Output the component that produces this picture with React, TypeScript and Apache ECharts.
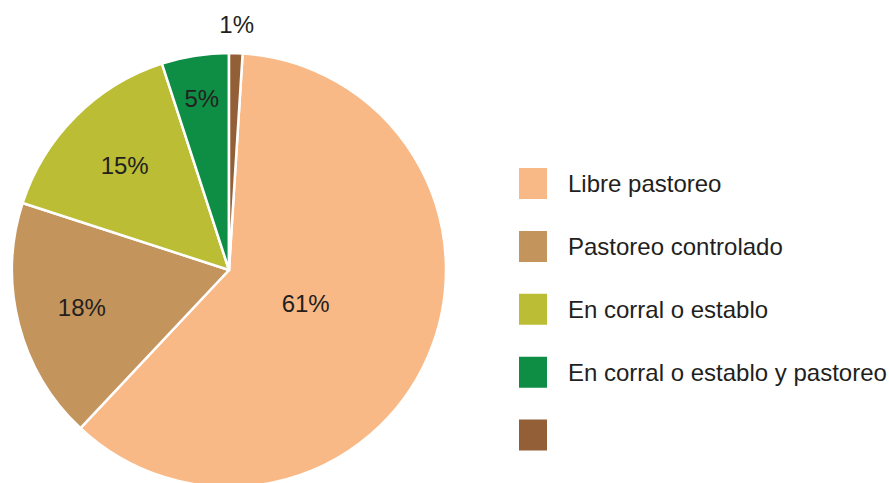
import React, { useEffect, useRef } from "react";
import * as echarts from "echarts";

const categories = [
  "Libre pastoreo",
  "Pastoreo controlado",
  "En corral o establo",
  "En corral o establo y pastoreo",
  " ",
];
const values = [61, 18, 15, 5, 1];
const colors = ["#f9b986", "#c4945d", "#bbbd35", "#0e8e44", "#935f37"];
const labelRadiusFactors = [0.385, 0.7, 0.68, 0.8, 1.13];

const CX = 229;
const CY = 270;
const R = 217;
const START_ANGLE = 86.4; // degrees ccw from 3 o'clock

export default function App() {
  const ref = useRef<HTMLDivElement>(null);
  useEffect(() => {
    document.body.style.margin = "0";
    if (!ref.current) return;
    const chart = echarts.init(ref.current, null, { renderer: "svg" });
    const total = values.reduce((a, b) => a + b, 0);
    const mids: number[] = [];
    let acc = 0;
    for (const v of values) {
      const span = (v / total) * 360;
      mids.push(START_ANGLE - acc - span / 2);
      acc += span;
    }
    chart.setOption({
      animation: false,
      backgroundColor: "#ffffff",
      color: colors,
      legend: {
        orient: "vertical",
        left: 517,
        top: 166,
        padding: 0,
        itemWidth: 30,
        itemHeight: 33,
        itemGap: 27.9,
        icon: "rect",
        data: categories,
        selectedMode: false,
        textStyle: {
          fontFamily: "Liberation Sans, Arial, sans-serif",
          fontSize: 24,
          color: "#231f20",
          padding: [0, 0, 0, 15],
        },
      },
      series: [
        {
          type: "pie",
          center: [CX, CY],
          radius: [0, R],
          startAngle: START_ANGLE,
          clockwise: true,
          avoidLabelOverlap: false,
          itemStyle: { borderColor: "#ffffff", borderWidth: 2.5 },
          label: {
            show: true,
            position: "inside",
            formatter: "{c}%",
            fontFamily: "Liberation Sans, Arial, sans-serif",
            fontSize: 24,
            color: "#231f20",
          },
          labelLine: { show: false },
          emphasis: { disabled: true },
          labelLayout: (params: any) => {
            const i = params.dataIndex;
            const a = (mids[i] * Math.PI) / 180;
            const r = R * labelRadiusFactors[i];
            return {
              x: CX + r * Math.cos(a),
              y: CY - r * Math.sin(a),
              align: "center",
              verticalAlign: "middle",
            };
          },
          data: categories.map((name, i) => ({ name, value: values[i] })),
        },
      ],
    });
    return () => chart.dispose();
  }, []);
  return <div ref={ref} style={{ width: 889, height: 483 }} />;
}
